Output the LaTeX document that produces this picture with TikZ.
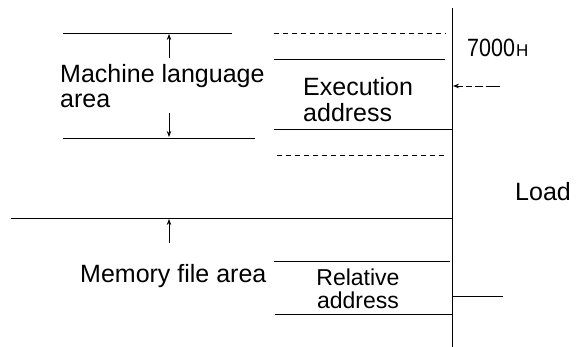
\documentclass[tikz,border=0pt]{standalone}
\usepackage{fontspec}
\setmainfont{Liberation Sans}
\usetikzlibrary{arrows.meta}
\begin{document}
\begin{tikzpicture}[x=1pt,y=-1pt,
  ln/.style={line width=0.8pt},
  dl/.style={line width=0.8pt,dash pattern=on 5pt off 4pt},
  arr/.style={line width=0.8pt,-{Stealth[length=6pt,width=4.5pt]}},
  lbl/.style={anchor=base west,inner sep=0pt,font=\fontsize{25}{25}\selectfont},
  sml/.style={anchor=base,inner sep=0pt,font=\fontsize{23}{20}\selectfont}]
\useasboundingbox (0,0) rectangle (576,347);
% memory column boundary
\coordinate (vtop) at (452,8);
\coordinate (vbot) at (452,347);
\draw[ln] (vtop) -- (vbot);
% right column lines
\draw[dl] (274,33) -- (446,33);
\draw[ln] (274,59) -- (445,59);
\draw[ln] (274,129) -- (452,129);
\draw[dl] (277,155) -- (447,155);
\draw[ln] (274,261) -- (450,261);
\draw[ln] (275,314) -- (452,314);
\draw[ln] (452,296) -- (503,296);
% left lines
\draw[ln] (63,33) -- (232,33);
\draw[ln] (63,138) -- (255,138);
\draw[ln] (11,218) -- (452,218);
% arrows
\coordinate (a1s) at (169,58);  \coordinate (a1e) at (169,34);
\coordinate (a2s) at (169,113); \coordinate (a2e) at (169,137);
\coordinate (a3s) at (169,243); \coordinate (a3e) at (169,219);
\coordinate (a4s) at (500,86);  \coordinate (a4e) at (453,86);
\draw[arr] (a1s) -- (a1e);
\draw[arr] (a2s) -- (a2e);
\draw[arr] (a3s) -- (a3e);
\draw[arr,dash pattern=on 14pt off 3pt on 8pt off 3pt on 6pt off 3pt] (a4s) -- (a4e);
% texts
\node[lbl] (ml1) at (60,83) {Machine language};
\node[lbl] (ml2) at (60,108) {area};
\node[lbl] (ex1) at (303,96) {Execution};
\node[lbl] (ex2) at (303,122) {address};
\node[lbl] (adr) at (467,57) {\scalebox{0.86}[1]{7000}\hspace{1pt}{\fontsize{17}{17}\selectfont H}};
\node[lbl] (load) at (515,201) {Load};
\node[lbl] (mfa) at (80,283) {Memory file area};
\node[sml] (rel) at (358,286) {\begin{tabular}[t]{@{}c@{}}Relative\\address\end{tabular}};
\end{tikzpicture}
\end{document}
